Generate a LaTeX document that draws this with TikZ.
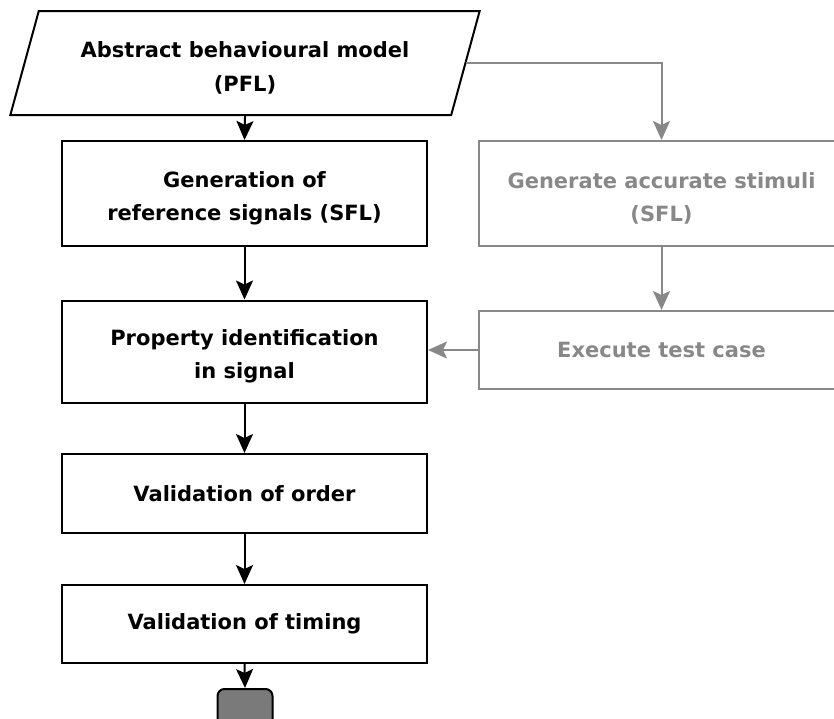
\documentclass[tikz,border=0pt]{standalone}
\usepackage{fontspec}
\setmainfont{DejaVu Sans}
\usetikzlibrary{shapes.geometric,arrows.meta}
\definecolor{dimgray}{HTML}{888888}
\definecolor{termfill}{HTML}{7A7A7A}
% strut that lowers a two-line label slightly inside its box
\newcommand{\lowstrut}{\rule{0pt}{26pt}}
\begin{document}
\begin{tikzpicture}[x=1pt,y=-1pt,
  every node/.style={font=\bfseries\fontsize{21}{33.5}\selectfont, align=center, inner sep=0pt},
  proc/.style={draw, line width=2pt, rectangle, minimum width=365pt},
  dimproc/.style={proc, draw=dimgray, text=dimgray},
  flow/.style={line width=2pt, -{Stealth[length=19pt,width=17pt,inset=4pt]}},
  dimflow/.style={flow, draw=dimgray, color=dimgray}]
  \useasboundingbox (0,0) rectangle (834,718);
  \clip (0,0) rectangle (834,718);

  % main flow
  \node[trapezium, draw, line width=2pt, trapezium left angle=70, trapezium right angle=110,
        trapezium stretches=true, minimum width=470pt, minimum height=104pt] (model) at (245,63)
        {\lowstrut Abstract behavioural model\\(PFL)};
  \node[proc, minimum height=105pt] (gen) at (244.5,193.5) {\lowstrut Generation of\\reference signals (SFL)};
  \node[proc, minimum height=102pt] (prop) at (244.5,351.5) {\lowstrut Property identification\\in signal};
  \node[proc, minimum height=79pt] (order) at (244.5,493.5) {Validation of order};
  \node[proc, minimum height=78pt] (timing) at (244.5,624) {Validation of timing};
  \node[draw, line width=2pt, fill=termfill, rounded corners=7pt, minimum width=55pt, minimum height=44pt] (stop) at (245,711) {};

  % side branch
  \node[dimproc, minimum height=105pt] (stim) at (661.5,193.5) {\lowstrut Generate accurate stimuli\\(SFL)};
  \node[dimproc, minimum height=78pt] (exec) at (661.5,350) {Execute test case};

  \draw[flow] (model.south) -- (gen.north);
  \draw[flow] (gen.south) -- (prop.north);
  \draw[flow] (prop.south) -- (order.north);
  \draw[flow] (order.south) -- (timing.north);
  \draw[flow] (timing.south) -- (stop.north);

  \draw[dimflow] (model.east) -| (stim.north);
  \draw[dimflow] (stim.south) -- (exec.north);
  \draw[dimflow] (exec.west) -- (exec.west -| prop.east);
\end{tikzpicture}
\end{document}
